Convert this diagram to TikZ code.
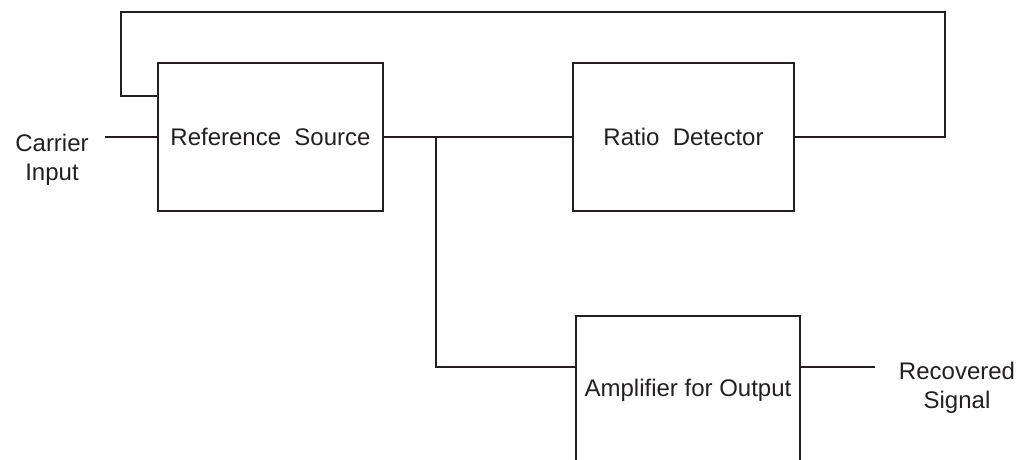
\documentclass[tikz,border=0pt]{standalone}
\usepackage{fontspec}
\setmainfont{Liberation Sans}
\definecolor{ink}{HTML}{231F20}
\begin{document}
\begin{tikzpicture}[x=1pt,y=-1pt,
  blk/.style={draw=ink,line width=2.8pt,rectangle,inner sep=0pt,font=\fontsize{24}{28}\selectfont,text=ink},
  wire/.style={draw=ink,line width=2.8pt},
  lbl/.style={align=center,inner sep=0pt,font=\fontsize{24}{29}\selectfont,text=ink}]
\useasboundingbox (0,0) rectangle (1032,459);
\node[blk,minimum width=225pt,minimum height=148pt] (rs) at (270.5,137) {Reference\ \ Source};
\node[blk,minimum width=221pt,minimum height=148pt] (rd) at (683.5,137) {Ratio\ \ Detector};
\node[blk,minimum width=224pt,minimum height=149pt] (amp) at (688,390.5) {Amplifier for Output};
\node[lbl] (cin) at (52,160) {Carrier\\Input};
\node[lbl] (rec) at (957,387.5) {Recovered\\Signal};
\coordinate (cinL) at (105,137);
\coordinate (fbR) at (945,12);
\coordinate (fbL) at (121,12);
\coordinate (br) at (436,137);
\coordinate (outR) at (875,367);
\draw[wire] (cinL) -- (rs.west);
\draw[wire] (rs.east) -- (rd.west);
\draw[wire] (rd.east) -| (fbR) -- (fbL) |- ([yshift=41pt]rs.west);
\draw[wire] (br) |- ([yshift=23.5pt]amp.west);
\draw[wire] ([yshift=23.5pt]amp.east) -- (outR);
\end{tikzpicture}
\end{document}
